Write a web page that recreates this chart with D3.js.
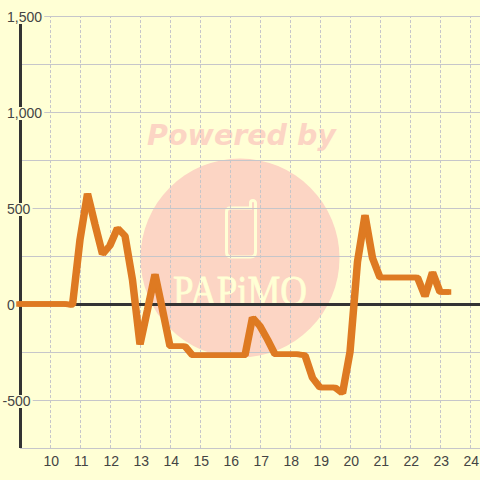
<!DOCTYPE html>
<html>
<head>
<meta charset="utf-8">
<script src="https://cdn.jsdelivr.net/npm/d3@7"></script>
<style>
html, body { margin: 0; padding: 0; background: #ffffd5; }
svg { display: block; }
</style>
</head>
<body>
<div id="graph"></div>
<script>
var w = 480
var h = 480

var hours = [9, 9.25, 9.5, 9.75, 10, 10.25, 10.5, 10.75, 11, 11.25, 11.5, 11.75, 12, 12.25, 12.5, 12.75, 13, 13.25, 13.5, 13.75, 14, 14.25, 14.5, 14.75, 15, 15.25, 15.5, 15.75, 16, 16.25, 16.5, 16.75, 17, 17.25, 17.5, 17.75, 18, 18.25, 18.5, 18.75, 19, 19.25, 19.5, 19.75, 20, 20.25, 20.5, 20.75, 21, 21.25, 21.5, 21.75, 22, 22.25, 22.5, 22.75, 23, 23.25]
var values = [0, 0, 0, 0, 0, 0, 0, -5, 335, 575, 415, 260, 305, 395, 355, 125, -210, -30, 155, -30, -220, -220, -220, -267, -267, -267, -267, -267, -267, -267, -267, -70, -115, -185, -262, -262, -262, -262, -267, -385, -435, -435, -435, -465, -250, 220, 463, 240, 138, 138, 138, 138, 138, 138, 40, 165, 62, 62]

var xTicks = [10, 11, 12, 13, 14, 15, 16, 17, 18, 19, 20, 21, 22, 23, 24]
var yLabelTicks = [1500, 1000, 500, 0, -500]
var yGridTicks = [1500, 1250, 1000, 750, 500, 250, 0, -250, -500, -750]

var bg = "#ffffd5"
var gridColor = "#c6c6ca"
var axisColor = "#333333"
var textColor = "#444444"
var lineColor = "#de7a22"
var markColor = "#fcd5c4"

var svg = d3.select("#graph").append("svg")
    .attr("width", w)
    .attr("height", h)
    .style("background", bg)

var x = d3.scaleLinear().domain([9, 24.3]).range([20, 479])
var y = d3.scaleLinear().domain([1500, -750]).range([16, 448])

// watermark sits under the grid
var mark = svg.append("g")
mark.append("text")
    .attr("x", 241.5)
    .attr("y", 145)
    .attr("text-anchor", "middle")
    .attr("font-family", "DejaVu Sans")
    .attr("font-weight", "bold")
    .attr("font-style", "italic")
    .attr("font-size", 28.5)
    .attr("fill", markColor)
    .text("Powered by")
mark.append("circle")
    .attr("cx", 240)
    .attr("cy", 258)
    .attr("r", 99.5)
    .attr("fill", markColor)

// phone icon
mark.append("path")
    .attr("d", "M230 208H250.5V203A2.5 2.5 0 0 1 255.5 203V252Q255.5 257 250.5 257H231.5Q226.5 257 226.5 252V212Q226.5 208 230 208Z")
    .attr("fill", "none")
    .attr("stroke", bg)
    .attr("stroke-width", 3)

mark.append("text")
    .attr("x", 173)
    .attr("y", 305)
    .attr("font-family", "Liberation Sans Narrow")
    .attr("font-size", 43)
    .attr("textLength", 134)
    .attr("lengthAdjust", "spacingAndGlyphs")
    .attr("fill", bg)
    .attr("stroke", bg)
    .attr("stroke-width", 0.8)
    .text("PAPiMO")

// horizontal grid
svg.append("g")
    .attr("class", "grid-y")
    .attr("transform", "translate(20,0)")
    .call(d3.axisLeft(y).tickValues(yGridTicks).tickSize(-460).tickFormat(""))
    .call(function (g) { g.select(".domain").remove() })
    .selectAll("line")
    .attr("stroke", gridColor)
    .attr("stroke-width", 1)

// vertical dashed grid
svg.append("g")
    .attr("class", "grid-x")
    .attr("transform", "translate(0,448)")
    .call(d3.axisBottom(x).tickValues(xTicks).tickSize(-432).tickFormat(""))
    .call(function (g) { g.select(".domain").remove() })
    .selectAll("line")
    .attr("stroke", gridColor)
    .attr("stroke-width", 1)
    .attr("stroke-dasharray", "3,2")

// zero line and left axis
svg.append("line")
    .attr("x1", x(9))
    .attr("x2", w)
    .attr("y1", y(0) + 0.5)
    .attr("y2", y(0) + 0.5)
    .attr("stroke", axisColor)
    .attr("stroke-width", 3)

svg.append("line")
    .attr("x1", x(9) + 0.5)
    .attr("x2", x(9) + 0.5)
    .attr("y1", y(1500))
    .attr("y2", y(-750))
    .attr("stroke", axisColor)
    .attr("stroke-width", 3)

// y labels have a background box that cuts the axis and the grid
var yLabels = svg.append("g").selectAll("g")
    .data(yLabelTicks)
    .join("g")
    .attr("transform", function (d) { return "translate(0," + y(d) + ")" })

yLabels.append("text")
    .attr("x", function (d) { return d < 0 ? 2.5 : 7 })
    .attr("y", 5.5)
    .attr("font-family", "Liberation Sans")
    .attr("font-size", 14)
    .attr("fill", textColor)
    .text(function (d) { return d3.format(",")(d).replace("\u2212", "-") })

yLabels.insert("rect", "text")
    .each(function () {
        var b = this.parentNode.querySelector("text").getBBox()
        d3.select(this)
            .attr("x", b.x)
            .attr("y", -5)
            .attr("width", b.width + 2)
            .attr("height", 13)
    })
    .attr("fill", bg)

// x labels
svg.append("g").selectAll("text")
    .data(xTicks)
    .join("text")
    .attr("x", function (d) { return x(d) + 1.3 })
    .attr("y", 466)
    .attr("text-anchor", "middle")
    .attr("font-family", "Liberation Sans")
    .attr("font-size", 14)
    .attr("fill", textColor)
    .text(function (d) { return d })

var line = d3.line()
    .x(function (d) { return x(d[0]) })
    .y(function (d) { return y(d[1]) })

// the line is wider across its slopes than on the flat parts, so draw it twice, 2px apart
svg.append("g").selectAll("path")
    .data([-1, 1])
    .join("path")
    .attr("transform", function (d) { return "translate(" + d + ",0)" })
    .attr("d", line(d3.zip(hours, values)))
    .attr("fill", "none")
    .attr("stroke", lineColor)
    .attr("stroke-width", 5.5)
    .attr("stroke-linecap", "square")
    .attr("stroke-linejoin", "bevel")
</script>
</body>
</html>
